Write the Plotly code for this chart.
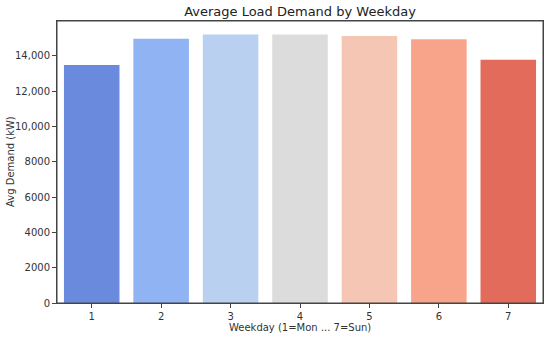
import plotly.graph_objects as go

weekdays = [1, 2, 3, 4, 5, 6, 7]
avg_demand = [13475, 14965, 15210, 15210, 15120, 14930, 13775]
bar_colors = ["#6a8bdd", "#8fb3f3", "#bad0f1", "#dcdcdc", "#f6c6b4", "#f8a48a", "#e36b5c"]
y_tick_vals = [0, 2000, 4000, 6000, 8000, 10000, 12000, 14000]
y_tick_text = ["0", "2000", "4000", "6000", "8000", "10,000", "12,000", "14,000"]

fig = go.Figure(go.Bar(
    x=weekdays, y=avg_demand, marker=dict(color=bar_colors, line=dict(width=0)),
    width=0.8,
))

axis_common = dict(
    showline=True, linecolor="#444", linewidth=1, mirror=True,
    ticks="outside", ticklen=4, tickcolor="#444", showgrid=False, zeroline=False,
    tickfont=dict(family="DejaVu Sans", size=10, color="#333"),
    automargin=False,
)

font_t = dict(family="DejaVu Sans", size=10, color="#333")

fig.update_layout(
    width=550, height=338,
    margin=dict(l=57, r=7, t=21, b=35, autoexpand=False),
    paper_bgcolor="white", plot_bgcolor="white",
    title=dict(text="Average Load Demand by Weekday", x=300/550, xanchor="center",
               y=1 - 11.5/338, yanchor="middle", automargin=False,
               font=dict(family="DejaVu Sans", size=13, color="#222")),
    xaxis=dict(range=[0.5, 7.5], tickmode="array", tickvals=weekdays,
               ticktext=[str(w) for w in weekdays], **axis_common),
    yaxis=dict(range=[0, 15970], tickmode="array", tickvals=y_tick_vals,
               ticktext=y_tick_text, **axis_common),
    showlegend=False,
    shapes=[dict(type="rect", xref="paper", yref="paper", x0=0, x1=1, y0=0, y1=1,
                 line=dict(color="#444", width=1), layer="above")],
    annotations=[
        dict(text="Weekday (1=Mon ... 7=Sun)", xref="paper", yref="paper",
             x=0.5, y=-24/282, xanchor="center", yanchor="middle",
             showarrow=False, font=font_t),
        dict(text="Avg Demand (kW)", xref="paper", yref="paper",
             x=-47/486, y=0.5, xanchor="center", yanchor="middle", textangle=-90,
             showarrow=False, font=font_t),
    ],
)

fig.write_html("out.html", config={"displayModeBar": False},
               post_script="document.body.style.margin='0px';")
